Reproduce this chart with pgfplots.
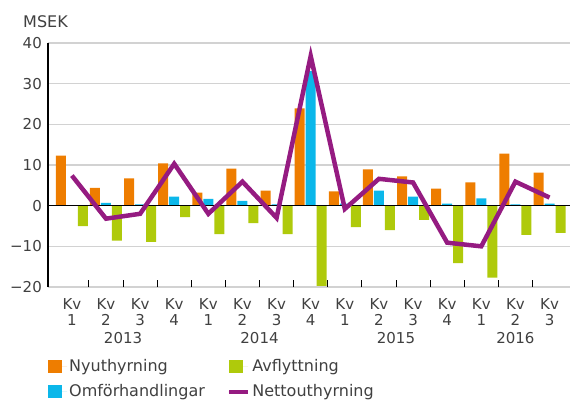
\documentclass[border=0pt]{standalone}
\usepackage{fontspec}
\setmainfont{DejaVu Sans}
\usepackage{pgfplots}
\usepackage{pgfplotstable}
\pgfplotsset{compat=1.18}
\definecolor{cOr}{HTML}{EE7D00}
\definecolor{cBl}{HTML}{0BB7EA}
\definecolor{cGr}{HTML}{AFCA0B}
\definecolor{cPu}{HTML}{951B81}
\definecolor{cTx}{HTML}{404040}
\definecolor{cGrid}{HTML}{D2D2D2}
\pgfplotstableread{
x ny om av net
0 12.3 0.0 -5.0 7.4
1 4.4 0.7 -8.6 -3.2
2 6.7 0.3 -8.9 -2.0
3 10.4 2.2 -2.8 10.3
4 3.2 1.7 -7.0 -2.0
5 9.1 1.2 -4.3 5.9
6 3.7 0.3 -7.0 -3.0
7 23.9 33.1 -19.7 36.8
8 3.5 0.5 -5.3 -0.8
9 8.9 3.7 -6.0 6.6
10 7.2 2.2 -3.5 5.7
11 4.2 0.5 -14.1 -9.1
12 5.7 1.8 -17.7 -10.0
13 12.8 0.3 -7.2 5.9
14 8.1 0.5 -6.7 2.0
}\datatable
\newcommand{\tfont}{\fontsize{15bp}{17bp}\selectfont}
\newcommand{\lfont}{\fontsize{16bp}{18bp}\selectfont}
\begin{document}
\begin{tikzpicture}
\tfont
\begin{axis}[
 scale only axis, width=522bp, height=244bp,
 xmin=-0.7, xmax=14.6, ymin=-20, ymax=40,
 axis line style={draw=none},
 ytick={-20,-10,...,40}, yticklabels={−20,−10,0,10,20,30,40},
 ymajorgrids, grid style={cGrid, line width=1.2bp},
 ytick pos=left, xtick pos=bottom,
 major tick length=7bp,
 ytick style={draw=none},
 xtick={0.5,1.5,...,13.5}, xticklabels={},
 xtick style={black, line width=1bp},
 tick align=inside,
 extra x ticks={0,...,14},
 extra x tick labels={1,2,3,4,1,2,3,4,1,2,3,4,1,2,3},
 extra x tick style={major tick length=0pt, grid=none,
   xticklabel style={anchor=base, yshift=-38bp, inner sep=0pt}},
 yticklabel style={text=cTx, font=\tfont, anchor=east, inner sep=0pt, xshift=-6bp},
 xticklabel style={text=cTx, font=\tfont},
 legend columns=2,
 legend style={draw=none, fill=none, at={(rel axis cs:0,0)}, anchor=north west,
   yshift=-70bp, inner sep=0pt, text=cTx, font=\lfont,
   cells={anchor=west},
   /tikz/every even column/.append style={column sep=20bp},
   row sep=7bp},
 clip=false,
]
\addplot[ybar, bar width=10bp, bar shift=-11bp, fill=cOr, draw=none,
  legend image code/.code={\fill[cOr] (0bp,-6.5bp) rectangle (14bp,6.5bp); \path (0bp,0bp) -- (19bp,0bp);}]
  table[x=x, y=ny] {\datatable};
\addlegendentry{Nyuthyrning}
\addplot[ybar, bar width=10bp, bar shift=11bp, fill=cGr, draw=none,
  legend image code/.code={\fill[cGr] (0bp,-6.5bp) rectangle (14bp,6.5bp); \path (0bp,0bp) -- (19bp,0bp);}]
  table[x=x, y=av] {\datatable};
\addlegendentry{Avflyttning}
\addplot[ybar, bar width=10bp, bar shift=0bp, fill=cBl, draw=none,
  legend image code/.code={\fill[cBl] (0bp,-6.5bp) rectangle (14bp,6.5bp); \path (0bp,0bp) -- (19bp,0bp);}]
  table[x=x, y=om] {\datatable};
\addlegendentry{Omförhandlingar}
\addplot[black, line width=1.6bp, forget plot] coordinates {(-0.7,0) (14.6,0)};
\addplot[black, line width=1.2bp, forget plot] coordinates {(-0.7,-20) (-0.7,40)};
\addplot[cPu, line width=4.5bp, mark=none,
  legend image code/.code={\draw[cPu, line width=4.5bp, line cap=round] (2bp,0bp) -- (12bp,0bp); \path (0bp,0bp) -- (19bp,0bp);}]
  table[x=x, y=net] {\datatable};
\addlegendentry{Nettouthyrning}
\pgfplotsinvokeforeach{0,...,14}{\node[anchor=base, text=cTx, inner sep=0pt, yshift=-22bp] at (axis cs:#1,-20) {Kv};}
\node[anchor=base, text=cTx, inner sep=0pt, yshift=-56bp] at (axis cs:1.5,-20) {2013};
\node[anchor=base, text=cTx, inner sep=0pt, yshift=-56bp] at (axis cs:5.5,-20) {2014};
\node[anchor=base, text=cTx, inner sep=0pt, yshift=-56bp] at (axis cs:9.5,-20) {2015};
\node[anchor=base, text=cTx, inner sep=0pt, yshift=-56bp] at (axis cs:13,-20) {2016};
\node[anchor=base west, text=cTx, inner sep=0pt, font=\lfont] at (rel axis cs:0,1) [xshift=-25bp, yshift=16bp] {MSEK};
\coordinate (bl) at (rel axis cs:0,0);
\coordinate (tr) at (rel axis cs:1,1);
\end{axis}
\path (bl) ++(-48bp,-113bp) coordinate (A);
\path (tr) ++(0bp,43bp) coordinate (B);
\pgfresetboundingbox
\path[use as bounding box] (A) rectangle (B);
\end{tikzpicture}
\end{document}
